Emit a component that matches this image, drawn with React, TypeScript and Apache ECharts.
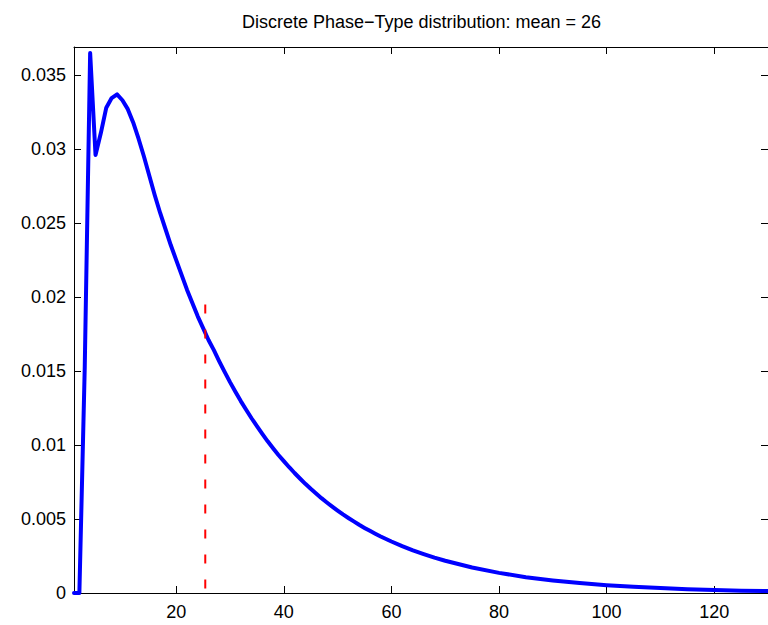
import React, { useEffect, useRef } from "react";
import * as echarts from "echarts";

// Support points (time steps) and probability mass
const xValues = [
  1, 2, 3, 4, 5, 6, 7, 8, 9, 10,
  11, 12, 13, 14, 15, 16, 17, 18, 19, 20,
  21, 22, 23, 24, 25, 26, 27, 28, 29, 30,
  31, 32, 33, 34, 35, 36, 37, 38, 39, 40,
  41, 42, 43, 44, 45, 46, 47, 48, 49, 50,
  51, 52, 53, 54, 55, 56, 57, 58, 59, 60,
  62, 64, 66, 68, 70, 75, 80, 85, 90,
  95, 100, 105, 110, 115, 120, 125, 130,
];
const pdfValues = [
  0, 0, 0.0153, 0.0365, 0.0296, 0.0311, 0.0328, 0.03345, 0.0337, 0.0333,
  0.0327, 0.0318, 0.0307, 0.0295, 0.0282, 0.0269, 0.0257, 0.0246, 0.0235, 0.0225,
  0.0215, 0.0205, 0.0196, 0.0187, 0.0179, 0.0171, 0.01641, 0.01566, 0.01494, 0.01425,
  0.0136, 0.01297, 0.01238, 0.01181, 0.01127, 0.01075, 0.01025, 0.00978, 0.00933, 0.00891,
  0.0085, 0.00811, 0.00774, 0.00738, 0.00704, 0.00672, 0.00641, 0.00612, 0.00584, 0.00557,
  0.00531, 0.00507, 0.00484, 0.00461, 0.0044, 0.0042, 0.00401, 0.00382, 0.00365, 0.00348,
  0.00317, 0.00288, 0.00263, 0.00239, 0.00218, 0.00172, 0.00136, 0.00107, 0.00085,
  0.00067, 0.00053, 0.00042, 0.00033, 0.00026, 0.00021, 0.00016, 0.00013,
];
const xTicks = [20, 40, 60, 80, 100, 120];
const meanX = 25.4;
const meanLineTop = 0.0195;
const titleText = "Discrete Phase\u2212Type distribution: mean = 26";

export default function App() {
  const ref = useRef<HTMLDivElement>(null);
  useEffect(() => {
    const chart = echarts.init(ref.current!, null, { renderer: "svg" });
    const font = "'Liberation Sans', Arial, Helvetica, sans-serif";
    const pdfData = xValues.map((x, i) => [x, pdfValues[i]]);
    const meanData = [
      [meanX, meanLineTop],
      [meanX, 0],
    ];
    const axisLine = { show: true, onZero: false, lineStyle: { color: "#000", width: 1 } };
    chart.setOption({
      animation: false,
      backgroundColor: "#fff",
      textStyle: { fontFamily: font },
      graphic: [
        {
          type: "text",
          x: 421.5,
          y: 22,
          style: {
            text: titleText,
            fontSize: 18,
            fontFamily: font,
            fill: "#000",
            align: "center",
            verticalAlign: "middle",
          },
        },
      ],
      grid: { left: 74, right: -1, top: 47, bottom: 32, containLabel: false },
      xAxis: [
        {
          type: "value",
          min: 1,
          max: 130,
          position: "bottom",
          axisLine,
          axisTick: { show: true, inside: true, length: 7, customValues: xTicks, lineStyle: { color: "#000" } },
          axisLabel: { customValues: xTicks, fontSize: 18, color: "#000", margin: 10, fontFamily: font },
          splitLine: { show: false },
        },
        {
          type: "value",
          min: 1,
          max: 130,
          position: "top",
          axisLine,
          axisTick: { show: true, inside: true, length: 7, customValues: xTicks, lineStyle: { color: "#000" } },
          axisLabel: { show: false },
          splitLine: { show: false },
        },
      ],
      yAxis: [
        {
          type: "value",
          min: 0,
          max: 0.0369,
          interval: 0.005,
          position: "left",
          axisLine,
          axisTick: { show: true, inside: true, length: 7, lineStyle: { color: "#000" } },
          axisLabel: {
            fontSize: 18,
            color: "#000",
            margin: 8,
            fontFamily: font,
            showMaxLabel: false,
            formatter: (v: number) => String(+v.toFixed(3)),
          },
          splitLine: { show: false },
        },
        {
          type: "value",
          min: 0,
          max: 0.0369,
          interval: 0.005,
          position: "right",
          axisLine,
          axisTick: { show: true, inside: true, length: 7, lineStyle: { color: "#000" } },
          axisLabel: { show: false },
          splitLine: { show: false },
        },
      ],
      series: [
        {
          type: "line",
          data: pdfData,
          xAxisIndex: 0,
          yAxisIndex: 0,
          symbol: "none",
          showSymbol: false,
          lineStyle: { color: "#0000ff", width: 4, cap: "round", join: "round" },
          z: 3,
        },
        {
          type: "line",
          data: meanData,
          xAxisIndex: 0,
          yAxisIndex: 0,
          symbol: "none",
          showSymbol: false,
          lineStyle: { color: "#ff0000", width: 2, type: [9, 16] },
          z: 4,
        },
      ],
    });
    return () => chart.dispose();
  }, []);
  return (
    <div
      ref={ref}
      style={{ position: "fixed", left: 0, top: 0, width: 768, height: 625 }}
    />
  );
}
